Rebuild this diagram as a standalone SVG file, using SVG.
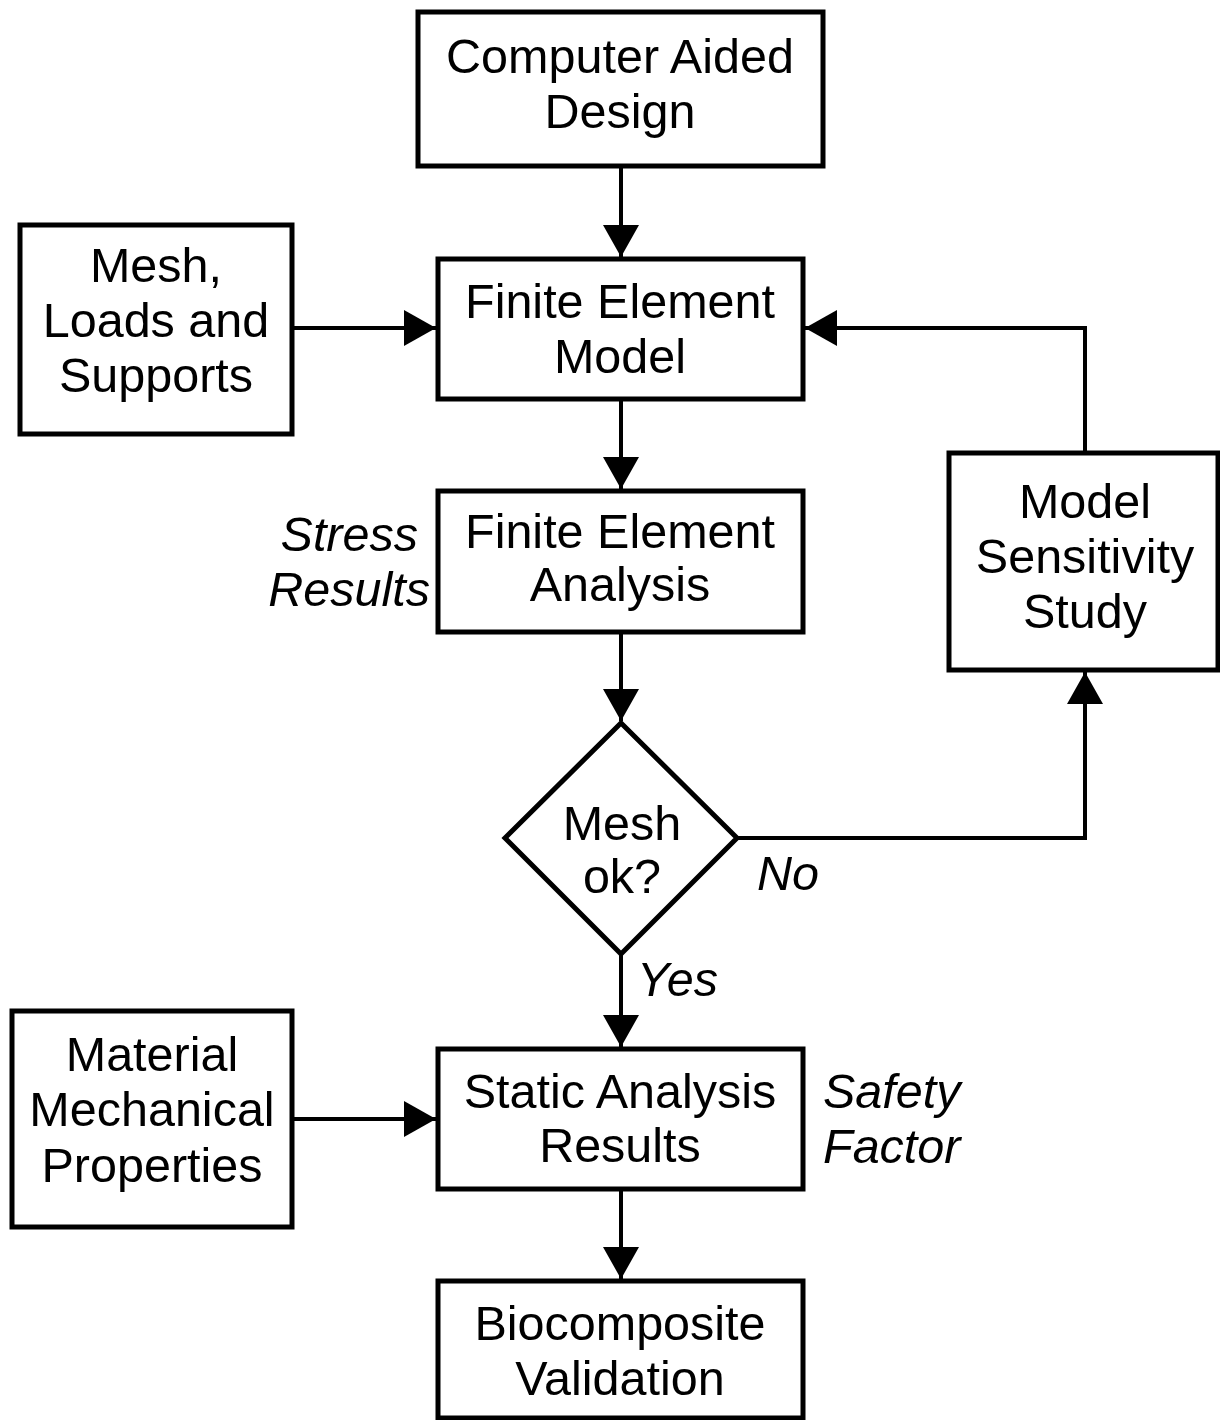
<svg xmlns="http://www.w3.org/2000/svg" width="1220" height="1420" viewBox="0 0 1220 1420">
<style>
.box{fill:#fff;stroke:#000;stroke-width:5}
.t{font-family:"Liberation Sans",Arial,sans-serif;font-size:48.5px;fill:#000;text-anchor:middle}
.i{font-family:"Liberation Sans",Arial,sans-serif;font-size:48.5px;fill:#000;font-style:italic}
.c{fill:none;stroke:#000;stroke-width:4}
</style>
<defs>
<marker id="ah" markerUnits="userSpaceOnUse" markerWidth="36" markerHeight="36" viewBox="0 0 32 36" refX="32" refY="18" orient="auto">
<path d="M0,0 L32,18 L0,36 Z" fill="#000"/>
</marker>
</defs>
<rect width="1220" height="1420" fill="#fff"/>
<g id="connectors">
<path class="c" d="M621,166 V257" marker-end="url(#ah)"/>
<path class="c" d="M292,328 H436" marker-end="url(#ah)"/>
<path class="c" d="M1085,453 V328 H805" marker-end="url(#ah)"/>
<path class="c" d="M621,399 V489" marker-end="url(#ah)"/>
<path class="c" d="M621,632 V721" marker-end="url(#ah)"/>
<path class="c" d="M737,838 H1085 V672" marker-end="url(#ah)"/>
<path class="c" d="M621,954 V1047" marker-end="url(#ah)"/>
<path class="c" d="M292,1119 H436" marker-end="url(#ah)"/>
<path class="c" d="M621,1189 V1279" marker-end="url(#ah)"/>
</g>
<g id="cad">
<rect class="box" x="418" y="12" width="405" height="154"/>
<text class="t" x="620" y="73">Computer Aided</text>
<text class="t" x="620" y="128">Design</text>
</g>
<g id="mesh-loads">
<rect class="box" x="20" y="225" width="272" height="209"/>
<text class="t" x="156" y="282">Mesh,</text>
<text class="t" x="156" y="337">Loads and</text>
<text class="t" x="156" y="392">Supports</text>
</g>
<g id="fem">
<rect class="box" x="438" y="259" width="365" height="140"/>
<text class="t" x="620" y="318">Finite Element</text>
<text class="t" x="620" y="373">Model</text>
</g>
<g id="fea">
<rect class="box" x="438" y="491" width="365" height="141"/>
<text class="t" x="620" y="548">Finite Element</text>
<text class="t" x="620" y="601">Analysis</text>
</g>
<g id="stress-label">
<text class="i" x="418" y="551" text-anchor="end">Stress</text>
<text class="i" x="430" y="606" text-anchor="end">Results</text>
</g>
<g id="sensitivity">
<rect class="box" x="949" y="453" width="269" height="217"/>
<text class="t" x="1085" y="518">Model</text>
<text class="t" x="1085" y="573">Sensitivity</text>
<text class="t" x="1085" y="628">Study</text>
</g>
<g id="decision">
<polygon class="box" points="621,723 737,838 621,954 505,838"/>
<text class="t" x="622" y="840">Mesh</text>
<text class="t" x="622" y="893">ok?</text>
</g>
<g id="labels">
<text class="i" x="757" y="890">No</text>
<text class="i" x="637" y="996">Yes</text>
</g>
<g id="material">
<rect class="box" x="12" y="1011" width="280" height="216"/>
<text class="t" x="152" y="1071">Material</text>
<text class="t" x="152" y="1126">Mechanical</text>
<text class="t" x="152" y="1182">Properties</text>
</g>
<g id="static">
<rect class="box" x="438" y="1049" width="365" height="140"/>
<text class="t" x="620" y="1108">Static Analysis</text>
<text class="t" x="620" y="1162">Results</text>
</g>
<g id="safety-label">
<text class="i" x="823" y="1108">Safety</text>
<text class="i" x="823" y="1163">Factor</text>
</g>
<g id="bio">
<rect class="box" x="438" y="1281" width="365" height="137"/>
<text class="t" x="620" y="1340">Biocomposite</text>
<text class="t" x="620" y="1395">Validation</text>
</g>
</svg>
